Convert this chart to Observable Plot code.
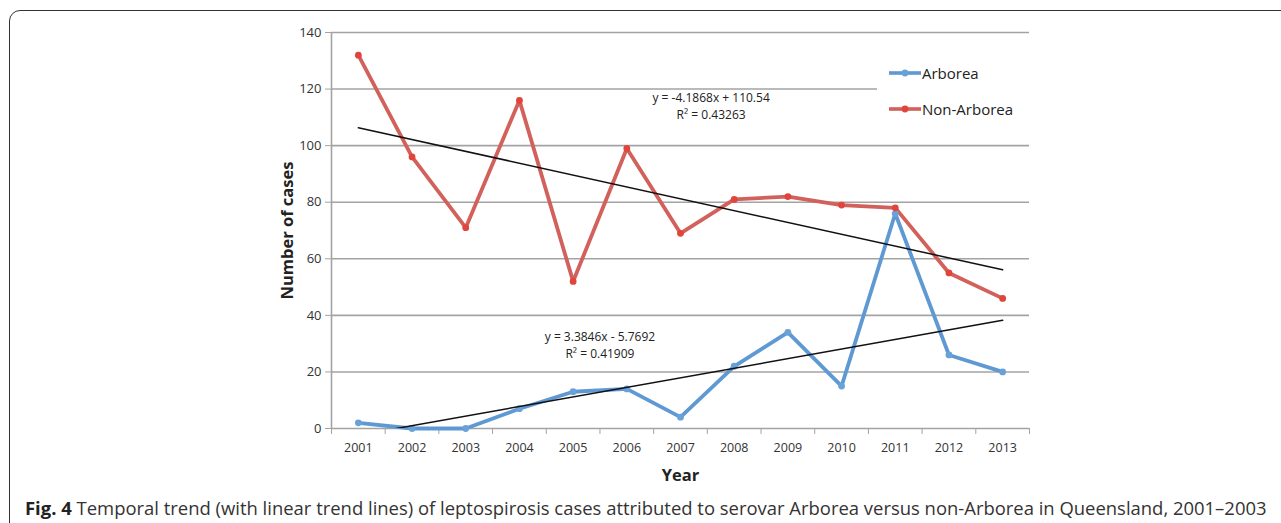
<!DOCTYPE html>
<html><head><meta charset="utf-8">
<script src="https://cdn.jsdelivr.net/npm/d3@7"></script>
<script src="https://cdn.jsdelivr.net/npm/@observablehq/plot@0.6"></script>
<style>
body{margin:0;background:#fff;font-family:"Open Sans",sans-serif;overflow:hidden;}
#frame{position:absolute;left:9px;top:10px;width:1320px;height:560px;border:1.5px solid #333;border-radius:11px;}
#chart{position:absolute;left:0;top:0;}
#legend{position:absolute;left:877px;top:52px;width:170px;height:72px;background:#fff;font-size:15px;color:#222;}
#legend .row{position:absolute;left:12px;display:flex;align-items:center;}
#caption{position:absolute;left:25px;top:495px;font-size:18.45px;color:#333;white-space:nowrap;}
#caption b{color:#222;}
</style></head><body>
<div id="frame"></div>
<div id="chart"></div>
<div id="legend"></div>
<div id="caption"><b>Fig. 4</b> Temporal trend (with linear trend lines) of leptospirosis cases attributed to serovar Arborea versus non-Arborea in Queensland, 2001–2003</div>
<script>
const years = [2001,2002,2003,2004,2005,2006,2007,2008,2009,2010,2011,2012,2013];
const arborea = [2,0,0,7,13,14,4,22,34,15,76,26,20];
const nonArborea = [132,96,71,116,52,99,69,81,82,79,78,55,46];
const seriesNames = ["Arborea","Non-Arborea"];
const seriesColors = ["#5f99d3","#d2605b"];
const markerColors = ["#6aa2d8","#e0443a"];
// trend line equations as printed (x = 1..13)
const trendSlopes = [3.3846,-4.1868];
const trendIntercepts = [-5.7692,110.54];
const trendLabels = ["y = 3.3846x - 5.7692\nR² = 0.41909","y = -4.1868x + 110.54\nR² = 0.43263"];
const labelYears = [2005.5,2007.57];
const labelValues = [29.8,114.3];
const yTicks = [0,20,40,60,80,100,120,140];

const rows = [];
years.forEach((yr,i)=>{
  rows.push({year:yr,value:arborea[i],series:seriesNames[0]});
  rows.push({year:yr,value:nonArborea[i],series:seriesNames[1]});
});
const trendRows = [];
seriesNames.forEach((s,k)=>{
  [0,years.length-1].forEach(i=>{
    trendRows.push({year:years[i],value:trendSlopes[k]*(i+1)+trendIntercepts[k],series:s});
  });
});
const labels = seriesNames.map((s,k)=>({year:labelYears[k],value:labelValues[k],text:trendLabels[k]}));
const boundaries = d3.range(years[0]-0.5, years[years.length-1]+1, 1);
const grey = "#a3a3a3";

const chart = Plot.plot({
  width:1281, height:490,
  marginLeft:331, marginRight:252, marginTop:32, marginBottom:62,
  style:{fontFamily:"Open Sans, sans-serif", color:"#333", background:"transparent"},
  x:{type:"linear", domain:[years[0]-0.5, years[years.length-1]+0.5]},
  y:{domain:[0,140]},
  color:{domain:seriesNames, range:seriesColors},
  marks:[
    Plot.ruleY(yTicks.filter(d=>d>0), {stroke:grey, strokeWidth:1.6}),
    Plot.ruleY([0], {stroke:grey, strokeWidth:1.6}),
    Plot.ruleX([years[0]-0.5], {stroke:grey, strokeWidth:1.6}),
    Plot.axisY({ticks:yTicks, tickSize:6, tickPadding:4, stroke:grey, fontSize:13, label:"Number of cases", labelAnchor:"center", labelArrow:"none", labelOffset:50}),
    Plot.axisX({ticks:years, tickFormat:"d", tickSize:0, tickPadding:15, fontSize:12.5, label:"Year", labelAnchor:"center", labelArrow:"none", labelOffset:52}),
    Plot.axisX(boundaries, {tickSize:6, tickFormat:()=>"", stroke:grey, label:null}),
    Plot.line(rows, {x:"year", y:"value", z:"series", stroke:"series", strokeWidth:3.8, strokeLinejoin:"round"}),
    Plot.dot(rows, {x:"year", y:"value", r:3.4, fill:d=>markerColors[seriesNames.indexOf(d.series)], stroke:"none"}),
    Plot.line(trendRows, {x:"year", y:"value", z:"series", stroke:"#111", strokeWidth:1.5, clip:true}),
    Plot.text(labels, {x:"year", y:"value", text:"text", fontSize:12, lineHeight:1.45, fill:"#222"})
  ]
});
// style axis labels
chart.querySelectorAll("g[aria-label='y-axis label'] text, g[aria-label='x-axis label'] text").forEach(t=>{
  t.setAttribute("font-weight","bold"); t.setAttribute("font-size","16.5"); t.setAttribute("fill","#222");
});
document.getElementById("chart").appendChild(chart);

// legend
const legend = document.getElementById("legend");
seriesNames.forEach((s,k)=>{
  const row = document.createElement("div");
  row.className="row";
  row.style.top = (k===0? 11 : 47) + "px";
  row.innerHTML = `<svg width="32" height="10" style="margin-right:1px"><line x1="0" x2="32" y1="5" y2="5" stroke="${seriesColors[k]}" stroke-width="3.6"/><circle cx="16" cy="5" r="3.4" fill="${markerColors[k]}"/></svg><span>${s}</span>`;
  legend.appendChild(row);
});
</script>
</body></html>
